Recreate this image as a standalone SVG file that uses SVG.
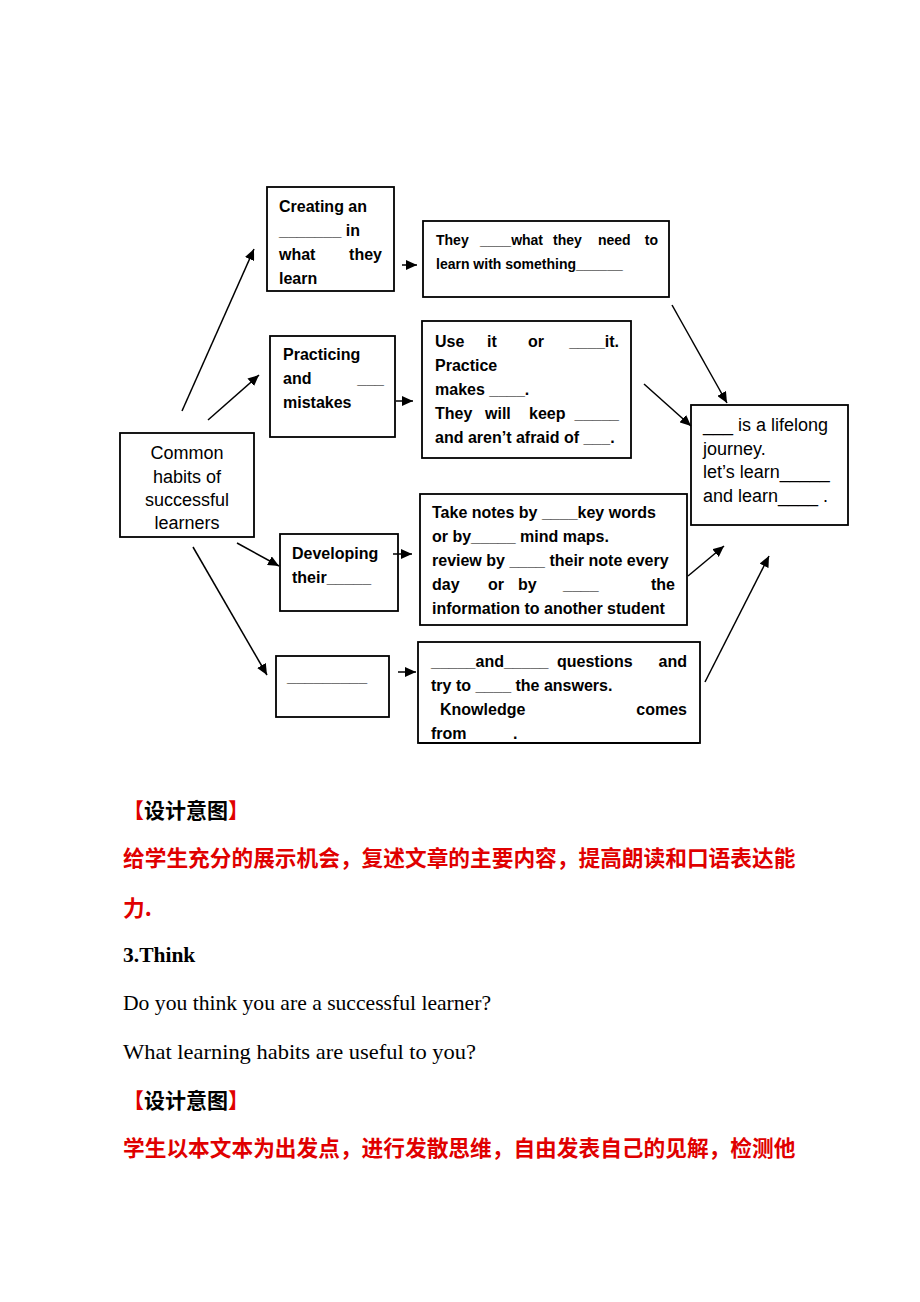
<svg xmlns="http://www.w3.org/2000/svg" width="920" height="1302" viewBox="0 0 920 1302">
<defs>
<marker id="ah" markerUnits="userSpaceOnUse" markerWidth="12" markerHeight="10" refX="11" refY="5" orient="auto">
<path d="M0,0 L11,5 L0,10 Z" fill="#000"/>
</marker>
<style>
.box{fill:#fff;stroke:#000;stroke-width:1.8}
.b{font-family:"Liberation Sans",Arial,sans-serif;font-weight:bold;font-size:16px;fill:#000}
.s{font-family:"Liberation Sans",Arial,sans-serif;font-weight:bold;font-size:14px;fill:#000}
.r{font-family:"Liberation Sans",Arial,sans-serif;font-size:18px;fill:#000}
.c line{stroke:#000;stroke-width:1.5;marker-end:url(#ah)}
.h{font-family:"Noto Sans CJK SC",sans-serif;font-weight:bold;font-size:21px;fill:#000}
.red{font-family:"Noto Sans CJK SC",sans-serif;font-weight:bold;font-size:21.7px;fill:#e00000}
.t{font-family:"Liberation Serif","Times New Roman",serif;font-size:21.5px;fill:#000}
</style>
</defs>
<rect width="920" height="1302" fill="#fff"/>

<g id="n-creating">
<rect class="box" x="267" y="187" width="127" height="104"/>
<text class="b" x="279" y="212">Creating an</text>
<text class="b" x="279" y="236">_______ in</text>
<text class="b" x="279" y="260">what</text>
<text class="b" x="382" y="260" text-anchor="end">they</text>
<text class="b" x="279" y="284">learn</text>
</g>

<g id="n-they">
<rect class="box" x="423" y="221" width="246" height="76"/>
<text class="s" x="436" y="245">They</text>
<text class="s" x="480" y="245">____what</text>
<text class="s" x="553" y="245">they</text>
<text class="s" x="598" y="245">need</text>
<text class="s" x="658" y="245" text-anchor="end">to</text>
<text class="s" x="436" y="269">learn with something______</text>
</g>

<g id="n-practicing">
<rect class="box" x="270" y="336" width="125" height="101"/>
<text class="b" x="283" y="360">Practicing</text>
<text class="b" x="283" y="384">and</text>
<text class="b" x="384" y="384" text-anchor="end">___</text>
<text class="b" x="283" y="408">mistakes</text>
</g>

<g id="n-useit">
<rect class="box" x="422" y="321" width="209" height="137"/>
<text class="b" x="435" y="347">Use</text>
<text class="b" x="487" y="347">it</text>
<text class="b" x="528" y="347">or</text>
<text class="b" x="619" y="347" text-anchor="end">____it.</text>
<text class="b" x="435" y="371">Practice</text>
<text class="b" x="435" y="395">makes ____.</text>
<text class="b" x="435" y="419">They</text>
<text class="b" x="485" y="419">will</text>
<text class="b" x="529" y="419">keep</text>
<text class="b" x="619" y="419" text-anchor="end">_____</text>
<text class="b" x="435" y="443">and aren’t afraid of ___.</text>
</g>

<g id="n-common">
<rect class="box" x="120" y="433" width="134" height="104"/>
<text class="r" x="187" y="459" text-anchor="middle">Common</text>
<text class="r" x="187" y="483" text-anchor="middle">habits of</text>
<text class="r" x="187" y="506" text-anchor="middle">successful</text>
<text class="r" x="187" y="529" text-anchor="middle">learners</text>
</g>

<g id="n-journey">
<rect class="box" x="691" y="405" width="157" height="120"/>
<text class="r" x="703" y="431">___ is a lifelong</text>
<text class="r" x="703" y="455">journey.</text>
<text class="r" x="703" y="478">let’s  learn_____</text>
<text class="r" x="703" y="502">and learn____ .</text>
</g>

<g id="n-developing">
<rect class="box" x="280" y="534" width="118" height="77"/>
<text class="b" x="292" y="559">Developing</text>
<text class="b" x="292" y="583">their_____</text>
</g>

<g id="n-notes">
<rect class="box" x="420" y="494" width="267" height="131"/>
<text class="b" x="432" y="518">Take notes by ____key words</text>
<text class="b" x="432" y="542">or by_____ mind maps.</text>
<text class="b" x="432" y="566">review by ____ their note every</text>
<text class="b" x="432" y="590">day</text>
<text class="b" x="488" y="590">or</text>
<text class="b" x="518" y="590">by</text>
<text class="b" x="563" y="590">____</text>
<text class="b" x="675" y="590" text-anchor="end">the</text>
<text class="b" x="432" y="614">information to another student</text>
</g>

<g id="n-blank">
<rect class="box" x="276" y="656" width="113" height="61"/>
<text class="b" x="287" y="682">_________</text>
</g>

<g id="n-questions">
<rect class="box" x="418" y="642" width="282" height="101"/>
<text class="b" x="431" y="667">_____and_____</text>
<text class="b" x="557" y="667">questions</text>
<text class="b" x="687" y="667" text-anchor="end">and</text>
<text class="b" x="431" y="691">try to ____ the answers.</text>
<text class="b" x="440" y="715">Knowledge</text>
<text class="b" x="687" y="715" text-anchor="end">comes</text>
<text class="b" x="431" y="739">from</text>
<text class="b" x="513" y="739">.</text>
<line x1="419" y1="743" x2="699" y2="743" stroke="#000" stroke-width="1.8"/>
</g>

<g id="connectors" class="c">
<line x1="182" y1="411" x2="254" y2="249"/>
<line x1="208" y1="420" x2="259" y2="375"/>
<line x1="237" y1="543" x2="279" y2="566"/>
<line x1="193" y1="547" x2="267" y2="675"/>
<line x1="402" y1="265" x2="417" y2="265"/>
<line x1="396" y1="401" x2="413" y2="401"/>
<line x1="393" y1="554" x2="412" y2="554"/>
<line x1="398" y1="672" x2="416" y2="672"/>
<line x1="672" y1="305" x2="727" y2="403"/>
<line x1="644" y1="384" x2="691" y2="426"/>
<line x1="688" y1="576" x2="724" y2="546"/>
<line x1="705" y1="682" x2="769" y2="556"/>
</g>

<g id="text-below">
<text class="h" x="123" y="818"><tspan fill="#e00000">【</tspan>设计意图<tspan fill="#e00000">】</tspan></text>
<text class="red" x="123" y="866">给学生充分的展示机会，复述文章的主要内容，提高朗读和口语表达能</text>
<text class="red" x="123" y="916">力.</text>
<text class="t" x="123" y="962" font-weight="bold">3.Think</text>
<text class="t" x="123" y="1010" textLength="368" lengthAdjust="spacingAndGlyphs">Do you think you are a successful learner?</text>
<text class="t" x="123" y="1059" textLength="353" lengthAdjust="spacingAndGlyphs">What learning habits are useful to you?</text>
<text class="h" x="123" y="1108"><tspan fill="#e00000">【</tspan>设计意图<tspan fill="#e00000">】</tspan></text>
<text class="red" x="123" y="1156">学生以本文本为出发点，进行发散思维，自由发表自己的见解，检测他</text>
</g>
</svg>
